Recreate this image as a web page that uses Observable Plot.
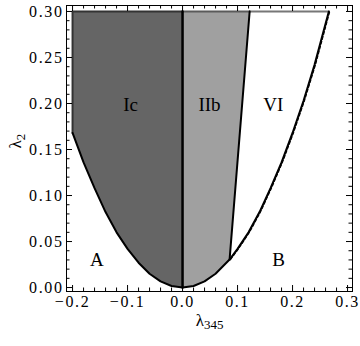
<!DOCTYPE html>
<html>
<head>
<meta charset="utf-8">
<script src="https://cdn.jsdelivr.net/npm/d3@7"></script>
<script src="https://cdn.jsdelivr.net/npm/@observablehq/plot@0.6"></script>
<style>
  html, body { margin: 0; padding: 0; background: #fff; }
  #chart svg text { font-family: "Liberation Serif", "Times New Roman", serif; }
  #chart svg text.ticklabel { letter-spacing: 1.6px; }
</style>
</head>
<body>
<div id="chart"></div>
<script>
// Boundary curve readings (lambda345, lambda2)
const curveX = [-0.20, -0.18, -0.16, -0.14, -0.12, -0.10, -0.08, -0.06, -0.04, -0.02, 0.00, 0.02, 0.04, 0.06, 0.0855, 0.10, 0.12, 0.14, 0.16, 0.18, 0.20, 0.22, 0.24, 0.266];
const curveY = [0.168, 0.136, 0.108, 0.082, 0.060, 0.042, 0.027, 0.015, 0.0067, 0.0017, 0.000, 0.0017, 0.0067, 0.015, 0.0304, 0.042, 0.060, 0.082, 0.108, 0.136, 0.168, 0.203, 0.242, 0.300];
// Region corners
const topY = 0.30;
const leftX = -0.20;
const midX = 0.0;
const cornerX = 0.0855;   // where the IIb/VI line meets the curve
const cornerY = 0.0304;
const lineTopX = 0.122;   // top end of IIb/VI line
// Region labels
const regionNames = ["Ic", "IIb", "VI", "A", "B"];
const regionX = [-0.0945, 0.049, 0.165, -0.156, 0.1745];
const regionY = [0.198, 0.198, 0.198, 0.030, 0.030];
// Ticks
const xMajor = [-0.2, -0.1, 0.0, 0.1, 0.2, 0.3];
const xLabels = ["\u22120.2", "\u22120.1", "0.0", "0.1", "0.2", "0.3"];
const xMinor = [-0.18, -0.16, -0.14, -0.12, -0.08, -0.06, -0.04, -0.02, 0.02, 0.04, 0.06, 0.08, 0.12, 0.14, 0.16, 0.18, 0.22, 0.24, 0.26, 0.28];
const yMajor = [0.00, 0.05, 0.10, 0.15, 0.20, 0.25, 0.30];
const yLabels = ["0.00", "0.05", "0.10", "0.15", "0.20", "0.25", "0.30"];
const yMinor = [0.01, 0.02, 0.03, 0.04, 0.06, 0.07, 0.08, 0.09, 0.11, 0.12, 0.13, 0.14, 0.16, 0.17, 0.18, 0.19, 0.21, 0.22, 0.23, 0.24, 0.26, 0.27, 0.28, 0.29];
// Axis titles
const xTitle = ["λ", "345"];
const yTitle = ["λ", "2"];

const curve = curveX.map((x, i) => ({x, y: curveY[i]}));
const iCorner = curveX.indexOf(cornerX);
const iZero = curveX.indexOf(midX);

const regionIc = [{x: leftX, y: topY}, ...curve.slice(0, iZero + 1), {x: midX, y: topY}];
const regionIIb = [{x: midX, y: topY}, ...curve.slice(iZero, iCorner + 1), {x: lineTopX, y: topY}];
const sepLine = [{x: cornerX, y: cornerY}, {x: lineTopX, y: topY}];
const rightCurve = curve.slice(iCorner);

const W = 360, H = 346;
const mL = 66, mR = 8, mT = 5, mB = 55;
const fw = W - mL - mR, fh = H - mT - mB;

const chart = Plot.plot({
  width: W, height: H,
  marginLeft: mL, marginRight: mR, marginTop: mT, marginBottom: mB,
  x: {domain: [-0.211, 0.309], axis: null},
  y: {domain: [-0.0043, 0.3065], axis: null},
  style: {background: "#fff"},
  marks: [
    // filled regions
    Plot.line(regionIc, {x: "x", y: "y", fill: "#656565", stroke: "none"}),
    Plot.line(regionIIb, {x: "x", y: "y", fill: "#a0a0a0", stroke: "none"}),
    // region outlines (top/left edges)
    Plot.line([{x: leftX, y: curveY[0]}, {x: leftX, y: topY}, {x: midX, y: topY}], {x: "x", y: "y", stroke: "#333", strokeWidth: 2}),
    Plot.line([{x: midX, y: topY}, {x: lineTopX, y: topY}], {x: "x", y: "y", stroke: "#5a5a5a", strokeWidth: 2}),
    Plot.line([{x: lineTopX, y: topY}, rightCurve[rightCurve.length - 1]], {x: "x", y: "y", stroke: "#777", strokeWidth: 2}),
    // boundaries
    Plot.line(curve, {x: "x", y: "y", stroke: "#000", strokeWidth: 2}),
    Plot.line(rightCurve, {x: "x", y: "y", stroke: "#000", strokeWidth: 1.2, strokeDasharray: "3,2", dx: 0.9}),
    Plot.line([{x: midX, y: 0}, {x: midX, y: topY}], {x: "x", y: "y", stroke: "#000", strokeWidth: 2.5}),
    Plot.line(sepLine, {x: "x", y: "y", stroke: "#000", strokeWidth: 2}),
    // region labels
    Plot.text(regionNames, {x: (d, i) => regionX[i], y: (d, i) => regionY[i], text: d => d, fontSize: 19, fill: "#000"}),
    // frame
    Plot.frame({stroke: "#000", strokeWidth: 1}),
    // ticks (inward, all four sides)
    Plot.tickX(xMajor, {x: d => d, stroke: "#000", insetTop: fh - 6}),
    Plot.tickX(xMajor, {x: d => d, stroke: "#000", insetBottom: fh - 6}),
    Plot.tickX(xMinor, {x: d => d, stroke: "#000", insetTop: fh - 3.5}),
    Plot.tickX(xMinor, {x: d => d, stroke: "#000", insetBottom: fh - 3.5}),
    Plot.tickY(yMajor, {y: d => d, stroke: "#000", insetRight: fw - 6}),
    Plot.tickY(yMajor, {y: d => d, stroke: "#000", insetLeft: fw - 6}),
    Plot.tickY(yMinor, {y: d => d, stroke: "#000", insetRight: fw - 3.5}),
    Plot.tickY(yMinor, {y: d => d, stroke: "#000", insetLeft: fw - 3.5}),
    // tick labels
    Plot.text(xMajor, {x: d => d, text: (d, i) => xLabels[i], frameAnchor: "bottom", dy: 15, fontSize: 16, fill: "#000"}),
    Plot.text(yMajor, {y: d => d, text: (d, i) => yLabels[i], frameAnchor: "left", textAnchor: "end", dx: -3, fontSize: 16, fill: "#000"}),
    // axis titles
    Plot.text([xTitle.join("")], {frameAnchor: "bottom", dy: 34, text: d => d, fontSize: 17, fill: "#000"}),
    Plot.text([yTitle.join("")], {frameAnchor: "left", dx: -51, rotate: -90, text: d => d, fontSize: 17, fill: "#000"})
  ]
});

document.getElementById("chart").appendChild(chart);

const tickSet = new Set([...xLabels, ...yLabels]);
d3.select(chart).selectAll("text").each(function() {
  const t = d3.select(this);
  const s = this.textContent;
  if (tickSet.has(s)) t.classed("ticklabel", true);
  for (const [main, sub] of [xTitle, yTitle]) {
    if (s === main + sub) {
      t.text(null);
      t.append("tspan").text(main);
      t.append("tspan").attr("dy", "0.3em").attr("font-size", 13).text(sub);
    }
  }
});
</script>
</body>
</html>
